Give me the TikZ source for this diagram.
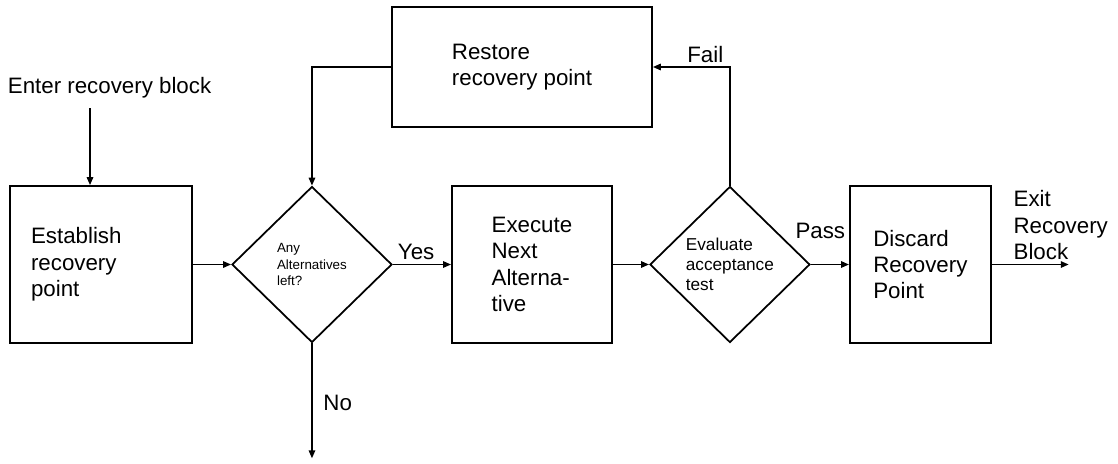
\documentclass[tikz,border=0pt]{standalone}
\usepackage{fontspec}
\setmainfont{Liberation Sans}
\usetikzlibrary{arrows.meta,positioning,shapes.geometric}

\begin{document}
\begin{tikzpicture}[
  x=0.02cm,y=-0.02cm,
  line width=1pt,
  font=\fontsize{12.7}{15}\selectfont,
  procbox/.style={rectangle,draw,minimum height=3.14cm,align=left,inner sep=2pt},
  decision/.style={diamond,draw,aspect=1,minimum width=3.2cm,minimum height=3.12cm,
    align=left,inner sep=1pt},
  arr/.style={-{Triangle[length=4.5pt,width=3.6pt]}},
  flowtext/.style={inner sep=2pt}
]
\useasboundingbox (0,0) rectangle (1118,463);

\node[anchor=base west,inner xsep=0pt,inner ysep=5.5pt] (enter) at (7,93) {Enter recovery block};
\node[procbox,minimum width=3.64cm,text width=2.8cm,inner xsep=0.42cm] (establish) at (101,264.5)
  {Establish\\recovery\\point};
\node[decision,right=0.765cm of establish,font=\fontsize{7.6}{9.6}\selectfont] (choice)
  {Any\\Alternatives\\left?};
\node[procbox,minimum width=3.2cm,right=1.165cm of choice] (execute) {Execute\\Next\\Alterna-\\tive};
\node[decision,right=0.725cm of execute,font=\fontsize{9.8}{11.3}\selectfont] (accept)
  {Evaluate\\acceptance\\test};
\node[procbox,minimum width=2.82cm,right=0.765cm of accept] (discard) {Discard\\Recovery\\Point};
\node[procbox,minimum width=5.2cm,minimum height=2.4cm] (restore) at (522,67) {Restore\\recovery point};
\node[flowtext,inner sep=0pt,align=left,above right=0.08cm and 0.42cm of discard.east] (exittext)
  {Exit\\Recovery\\Block};
\coordinate[right=1.54cm of discard.east] (exit);
\coordinate[below=2.3cm of choice.south] (noexit);

\draw[arr] ([xshift=-0.22cm]establish.north |- enter.south) -- ([xshift=-0.22cm]establish.north);
\draw[arr] (establish) -- (choice);
\draw[arr] (choice) -- node[flowtext,above,pos=0.4] {Yes} (execute);
\draw[arr] (execute) -- (accept);
\draw[arr] (accept) -- node[flowtext,above=0.42cm,pos=0.25] {Pass} (discard);
\draw[arr] (discard) -- (exit);
\draw[arr] (accept.north) |- node[flowtext,above,pos=0.66] {Fail} (restore.east);
\draw[arr] (restore.west) -| (choice.north);
\draw[arr] (choice.south) -- node[flowtext,right=4pt,pos=0.52] {No} (noexit);
\end{tikzpicture}
\end{document}
